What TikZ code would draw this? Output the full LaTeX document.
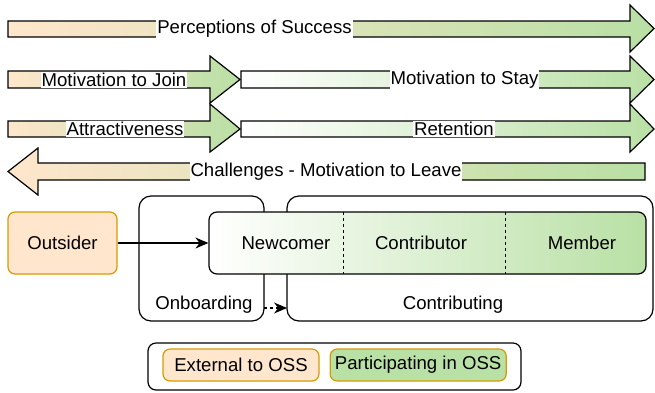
\documentclass[tikz,border=0pt]{standalone}
\usepackage{fontspec}
\setmainfont{Liberation Sans}
\usetikzlibrary{arrows.meta,positioning}
\definecolor{peach}{HTML}{FFE6CC}
\definecolor{leaf}{HTML}{B9E0A5}
\definecolor{amber}{HTML}{D79B00}
\tikzset{>={Stealth[length=13pt,width=11pt]}}
\tikzset{
  bar/.style={draw=black,line width=1.2pt,line join=miter},
  lbl/.style={fill=white,inner sep=1pt,font=\fontsize{18.6}{20}\selectfont},
  txt/.style={inner sep=0pt,font=\fontsize{18.6}{20}\selectfont},
  phase/.style={draw=black,line width=1.2pt,rounded corners=12pt,fill=white},
  rolebox/.style={draw=amber,line width=1.2pt,rounded corners=7pt,inner sep=0pt,font=\fontsize{18.6}{20}\selectfont}
}
\begin{document}
\begin{tikzpicture}[x=1pt,y=-1pt]
\useasboundingbox (0,0) rectangle (655,392);
% top arrows
\shadedraw[bar,left color=peach,right color=leaf] (8,21) -- (630,21) -- (630,5) -- (654,28.5) -- (630,52) -- (630,37) -- (8,37) -- cycle;
\node[lbl] (success) at (254.5,29) {Perceptions of Success};
\shadedraw[bar,left color=peach,right color=leaf] (8,71) -- (210,71) -- (210,56) -- (240,79.5) -- (210,103) -- (210,88) -- (8,88) -- cycle;
\shadedraw[bar,left color=white,right color=leaf] (241,71) -- (630,71) -- (630,56) -- (654,79.5) -- (630,103) -- (630,88) -- (241,88) -- cycle;
\node[lbl] (join) at (114,80) {Motivation to Join};
\node[lbl] (stay) at (464.5,80) {Motivation to Stay};
\shadedraw[bar,left color=peach,right color=leaf] (8,121) -- (210,121) -- (210,104) -- (240,129) -- (210,152) -- (210,137) -- (8,137) -- cycle;
\shadedraw[bar,left color=white,right color=leaf] (241,121) -- (630,121) -- (630,104) -- (654,129) -- (630,152) -- (630,137) -- (241,137) -- cycle;
\node[lbl] (attract) at (125,129) {Attractiveness};
\node[lbl] (retain) at (454,129) {Retention};
\shadedraw[bar,left color=peach,right color=leaf] (645,163) -- (38,163) -- (38,148) -- (8,171.5) -- (38,195) -- (38,180) -- (645,180) -- cycle;
\node[lbl] (leave) at (326,172) {Challenges - Motivation to Leave};
% phases
\node[phase,minimum width=125pt,minimum height=125pt] (onboard) at (201.5,258.5) {};
\node[phase,minimum width=366pt,minimum height=125pt] (contrib) at (470,258.5) {};
\node[txt] (onboardlbl) at (204,305) {Onboarding};
\node[txt] (contriblbl) at (453,305) {Contributing};
\node[draw=black,line width=1.2pt,rounded corners=8pt,left color=white,right color=leaf,minimum width=437pt,minimum height=62pt] (stages) at (427.5,243) {};
\draw[line width=1pt,dash pattern=on 3pt off 3pt] (343,212) -- (343,274);
\draw[line width=1pt,dash pattern=on 3pt off 3pt] (505,212) -- (505,274);
\node[txt] (newcomer) at (286,243) {Newcomer};
\node[txt] (contributor) at (421,243) {Contributor};
\node[txt] (member) at (582,243) {Member};
\node[rolebox,fill=peach,minimum width=109pt,minimum height=62pt] (outsider) at (62.5,243) {Outsider};
\draw[->,line width=1.2pt] (outsider.east) -- (stages.west);
\coordinate (obout) at (264,308);
\coordinate (cbin) at (287,308);
\draw[->,line width=1.2pt,dash pattern=on 3pt off 3pt] (obout) -- (cbin);
% legend
\node[draw=black,line width=1.2pt,rounded corners=8pt,minimum width=373pt,minimum height=47pt] (legend) at (334.5,366.5) {};
\node[rolebox,fill=peach,minimum width=156pt,minimum height=32pt] (external) at (241,365) {External to OSS};
\node[rolebox,fill=leaf,minimum width=176pt,minimum height=32pt,right=10pt of external] (inside) {Participating in OSS};
\end{tikzpicture}
\end{document}
